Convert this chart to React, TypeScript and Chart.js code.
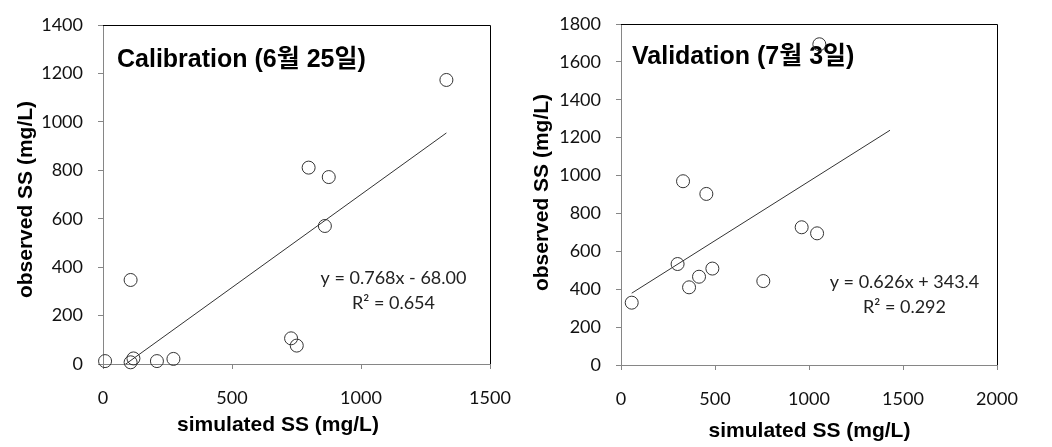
import { useEffect, useRef } from "react";
import { Chart, registerables } from "chart.js";

Chart.register(...registerables);

// ---- Data ----
const calSimulated = [8, 107, 118, 107, 209, 273, 729, 751, 797, 875, 860, 1331];
const calObserved = [12, 7, 23, 347, 12, 21, 106, 76, 811, 772, 570, 1173];
const calTrendRange = [8, 1331];
const calCoef = [0.768, -68.0];
const calXTicks = [0, 500, 1000, 1500];
const calYTicks = [0, 200, 400, 600, 800, 1000, 1200, 1400];

const valSimulated = [57, 301, 330, 362, 415, 454, 486, 757, 961, 1043, 1055];
const valObserved = [329, 533, 970, 410, 466, 903, 509, 443, 727, 695, 1693];
const valTrendRange = [57, 1431];
const valCoef = [0.626, 343.4];
const valXTicks = [0, 500, 1000, 1500, 2000];
const valYTicks = [0, 200, 400, 600, 800, 1000, 1200, 1400, 1600, 1800];

const calTitle = "Calibration (6월 25일)";
const calEq = "y = 0.768x - 68.00";
const calR2 = "R² = 0.654";
const valTitle = "Validation (7월 3일)";
const valEq = "y = 0.626x + 343.4";
const valR2 = "R² = 0.292";
const xTitle = "simulated SS (mg/L)";
const yTitle = "observed SS (mg/L)";

const BOLD_TITLE = 'bold 25px "Liberation Sans", "Noto Sans CJK KR", sans-serif';
const BOLD_AXIS = 'bold 21px "Liberation Sans", "Noto Sans CJK KR", sans-serif';
const EQ_FONT = '18px Lato, "Open Sans", sans-serif';

type TextItem = {
  text: string;
  x: number;
  y: number;
  font: string;
  align: CanvasTextAlign;
  baseline: CanvasTextBaseline;
  rotate?: boolean;
  color?: string;
};

type PanelProps = {
  width: number;
  height: number;
  left: number;
  xs: number[];
  ys: number[];
  trendRange: number[];
  coef: number[];
  xTicks: number[];
  yTicks: number[];
  yAxisWidth: number;
  xAxisHeight: number;
  padTop: number;
  padRight: number;
  texts: TextItem[];
};

function Panel(props: PanelProps) {
  const ref = useRef<HTMLCanvasElement | null>(null);
  useEffect(() => {
    const canvas = ref.current;
    if (!canvas) return;
    const {
      xs, ys, trendRange, coef, xTicks, yTicks, yAxisWidth, xAxisHeight, padTop, padRight, texts,
    } = props;

    const textPlugin = {
      id: "panelTexts",
      beforeDatasetsDraw(chart: any) {
        const ctx: CanvasRenderingContext2D = chart.ctx;
        const area = chart.chartArea;
        ctx.save();
        // top & right frame
        ctx.strokeStyle = "#000";
        ctx.lineWidth = 1;
        ctx.beginPath();
        ctx.moveTo(area.left, area.top + 0.5);
        ctx.lineTo(area.right + 0.5, area.top + 0.5);
        ctx.lineTo(area.right + 0.5, area.bottom);
        ctx.stroke();
        for (const t of texts) {
          ctx.save();
          ctx.font = t.font;
          ctx.fillStyle = t.color || "#000";
          ctx.textAlign = t.align;
          ctx.textBaseline = t.baseline;
          ctx.translate(t.x, t.y);
          if (t.rotate) ctx.rotate(-Math.PI / 2);
          ctx.fillText(t.text, 0, 0);
          ctx.restore();
        }
        ctx.restore();
      },
    };

    const trend = trendRange.map((x) => ({ x, y: coef[0] * x + coef[1] }));
    const points = xs.map((x, i) => ({ x, y: ys[i] }));
    const tickFont = { family: 'Lato, "Open Sans", sans-serif', size: 18 };

    const chart = new Chart(canvas, {
      type: "scatter",
      data: {
        datasets: [
          {
            type: "line",
            data: trend,
            borderColor: "#333",
            borderWidth: 1,
            pointRadius: 0,
            fill: false,
            order: 2,
          } as any,
          {
            type: "scatter",
            data: points,
            pointRadius: 6.5,
            pointHoverRadius: 6.5,
            borderColor: "#333",
            borderWidth: 1,
            backgroundColor: "rgba(0,0,0,0)",
            clip: false,
            order: 1,
          } as any,
        ],
      },
      options: {
        responsive: false,
        animation: false,
        devicePixelRatio: 1,
        events: [],
        layout: { padding: { left: 0, top: padTop, right: padRight, bottom: 0 } },
        plugins: { legend: { display: false }, tooltip: { enabled: false } },
        scales: {
          x: {
            type: "linear",
            min: xTicks[0],
            max: xTicks[xTicks.length - 1],
            afterFit: (s: any) => {
              s.height = xAxisHeight;
              s.paddingLeft = 0;
              s.paddingRight = 0;
            },
            afterBuildTicks: (s: any) => {
              s.ticks = xTicks.map((v) => ({ value: v }));
            },
            ticks: {
              callback: (v: any) => String(v),
              font: tickFont,
              color: "#111",
              padding: 18,
              maxRotation: 0,
              autoSkip: false,
            },
            grid: { drawOnChartArea: false, tickLength: 5, color: "#868686" },
            border: { color: "#868686" },
          },
          y: {
            type: "linear",
            min: yTicks[0],
            max: yTicks[yTicks.length - 1],
            afterFit: (s: any) => {
              s.width = yAxisWidth;
              s.paddingTop = 0;
              s.paddingBottom = 0;
            },
            afterBuildTicks: (s: any) => {
              s.ticks = yTicks.map((v) => ({ value: v }));
            },
            ticks: {
              callback: (v: any) => String(v),
              font: tickFont,
              color: "#111",
              padding: 15,
              autoSkip: false,
            },
            grid: { drawOnChartArea: false, tickLength: 5, color: "#868686" },
            border: { color: "#868686" },
          },
        },
      } as any,
      plugins: [textPlugin],
    });
    return () => chart.destroy();
  }, []);

  return (
    <div style={{ position: "absolute", left: props.left, top: 0, width: props.width, height: props.height }}>
      <canvas ref={ref} width={props.width} height={props.height} style={{ display: "block" }} />
    </div>
  );
}

export default function App() {
  const calTexts: TextItem[] = [
    { text: calTitle, x: 117, y: 67, font: BOLD_TITLE, align: "left", baseline: "alphabetic" },
    { text: calEq, x: 393.5, y: 284, font: EQ_FONT, align: "center", baseline: "alphabetic", color: "#222" },
    { text: calR2, x: 393.5, y: 309, font: EQ_FONT, align: "center", baseline: "alphabetic", color: "#222" },
    { text: xTitle, x: 278, y: 425, font: BOLD_AXIS, align: "center", baseline: "middle" },
    { text: yTitle, x: 26, y: 199.5, font: BOLD_AXIS, align: "center", baseline: "middle", rotate: true },
  ];
  const valTexts: TextItem[] = [
    { text: valTitle, x: 112, y: 63.5, font: BOLD_TITLE, align: "left", baseline: "alphabetic" },
    { text: valEq, x: 384.5, y: 288, font: EQ_FONT, align: "center", baseline: "alphabetic", color: "#222" },
    { text: valR2, x: 384.5, y: 313, font: EQ_FONT, align: "center", baseline: "alphabetic", color: "#222" },
    { text: xTitle, x: 289.5, y: 431, font: BOLD_AXIS, align: "center", baseline: "middle" },
    { text: yTitle, x: 22, y: 192.5, font: BOLD_AXIS, align: "center", baseline: "middle", rotate: true },
  ];
  return (
    <div style={{ position: "absolute", left: 0, top: 0, width: 1052, height: 447, background: "#fff" }}>
      <Panel
        width={520}
        height={447}
        left={0}
        xs={calSimulated}
        ys={calObserved}
        trendRange={calTrendRange}
        coef={calCoef}
        xTicks={calXTicks}
        yTicks={calYTicks}
        yAxisWidth={103}
        xAxisHeight={83}
        padTop={25}
        padRight={30}
        texts={calTexts}
      />
      <Panel
        width={532}
        height={447}
        left={520}
        xs={valSimulated}
        ys={valObserved}
        trendRange={valTrendRange}
        coef={valCoef}
        xTicks={valXTicks}
        yTicks={valYTicks}
        yAxisWidth={101}
        xAxisHeight={82}
        padTop={24}
        padRight={55}
        texts={valTexts}
      />
    </div>
  );
}
